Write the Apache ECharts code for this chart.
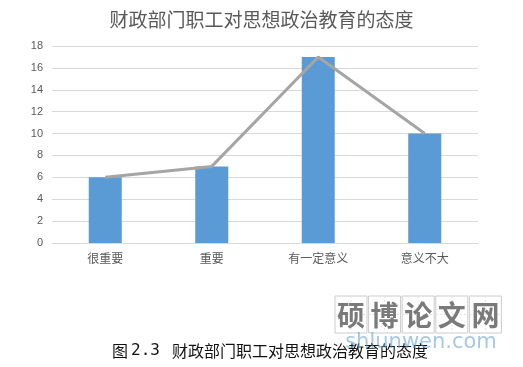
<!DOCTYPE html>
<html><head><meta charset="utf-8">
<script src="https://cdn.jsdelivr.net/npm/echarts@6/dist/echarts.min.js"></script>
<style>html,body{margin:0;padding:0;background:#fff}#c{width:523px;height:367px}</style>
</head><body><div id="c"></div>
<script>
const categories = ['很重要', '重要', '有一定意义', '意义不大'];
const barValues = [6, 7, 17, 10];
const lineValues = [6, 7, 17, 10];
const titleText = '财政部门职工对思想政治教育的态度';
const captionLabel = '图';
const captionNum = '2.3';
const captionText = '财政部门职工对思想政治教育的态度';
const wmChars = ['硕', '博', '论', '文', '网'];

const chart = echarts.init(document.getElementById('c'));
const wm = [];
wmChars.forEach((ch, i) => {
  const x = 335 + i * 33.6;
  wm.push({type:'rect', shape:{x:x, y:296, width:32, height:37}, style:{fill:'#fff', stroke:'#ccc', lineWidth:1}, z:10});
  wm.push({type:'line', shape:{x1:x+16, y1:296, x2:x+16, y2:333}, style:{stroke:'#e2e2e2', lineWidth:1, lineDash:[2,2]}, z:10});
  wm.push({type:'line', shape:{x1:x, y1:314.5, x2:x+32, y2:314.5}, style:{stroke:'#e2e2e2', lineWidth:1, lineDash:[2,2]}, z:10});
  wm.push({type:'text', x:x+16, y:315, style:{text:ch, fill:'#7a7a7a', font:'bold 28px "Noto Sans CJK SC"', textAlign:'center', textVerticalAlign:'middle'}, z:11});
});
chart.setOption({
  animation:false,
  backgroundColor:'#fff',
  title:{text:titleText, left:'center', top:5, textStyle:{fontSize:19, fontWeight:'normal', color:'#595959', fontFamily:'"Noto Sans CJK SC"'}},
  grid:{left:52, right:45, top:46, bottom:124},
  xAxis:{type:'category', data:categories, axisTick:{show:false}, axisLine:{lineStyle:{color:'#d9d9d9'}},
    axisLabel:{color:'#595959', fontSize:12, margin:9, fontFamily:'"Noto Sans CJK SC"'}},
  yAxis:{type:'value', min:0, max:18, interval:2, axisLine:{show:false}, axisTick:{show:false},
    splitLine:{lineStyle:{color:'#d9d9d9'}}, axisLabel:{color:'#595959', fontSize:11, margin:9}},
  series:[
    {type:'bar', data:barValues, barWidth:'31%', itemStyle:{color:'#5b9bd5'}},
    {type:'line', data:lineValues, symbol:'none', lineStyle:{color:'#a5a5a5', width:3}}
  ],
  graphic:[
    {type:'text', x:112, y:351, style:{text:captionLabel, fill:'#111', font:'16px "Noto Sans CJK SC"', textVerticalAlign:'middle'}, z:5},
    {type:'text', x:131, y:351, style:{text:captionNum, fill:'#111', font:'16px "DejaVu Sans Mono", "Liberation Mono"', textVerticalAlign:'middle'}, z:5},
    {type:'text', x:172, y:351, style:{text:captionText, fill:'#111', font:'16px "Noto Sans CJK SC"', textVerticalAlign:'middle'}, z:5},
    ...wm,
    {type:'text', x:421, y:343, style:{text:'shlunwen.com', fill:'rgba(91,155,213,0.55)', font:'21px "DejaVu Sans"', textAlign:'center', textVerticalAlign:'middle'}, z:12}
  ]
});
</script></body></html>
